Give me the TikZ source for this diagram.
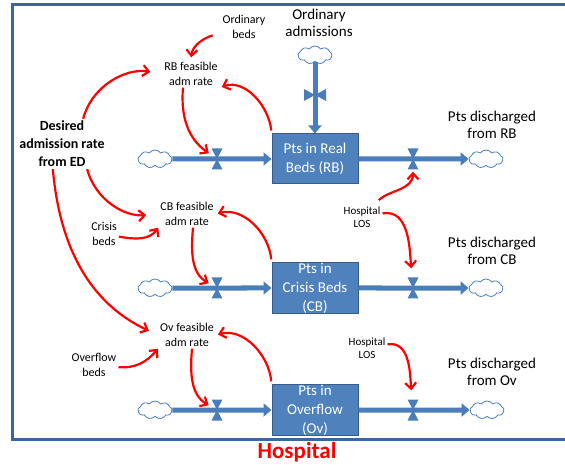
\documentclass[tikz,border=0pt]{standalone}
\usepackage{fontspec}
\setmainfont{Carlito}
\usetikzlibrary{arrows.meta,shapes.symbols}

\definecolor{stockblue}{HTML}{4F81BD}
\definecolor{stockedge}{HTML}{385D8A}
\definecolor{pipeblue}{HTML}{4A7EBB}
\definecolor{frameblue}{HTML}{3C679C}

\tikzset{
  stock/.style={draw=stockedge, fill=stockblue, line width=1pt, text=white,
    minimum width=86pt, minimum height=50pt, inner sep=0pt, align=center,
    font=\fontsize{15}{19}\selectfont},
  sky/.style={cloud, cloud puffs=9, cloud puff arc=110, aspect=2,
    draw=pipeblue, fill=white, line width=0.8pt,
    minimum width=34pt, minimum height=18pt, inner sep=0pt},
  pipe/.style={draw=pipeblue, line width=5pt, -{Triangle[length=8pt,width=13pt]}},
  valveh/.style={minimum width=11pt, minimum height=21pt, inner sep=0pt,
    path picture={\fill[pipeblue]
      (path picture bounding box.north west) -- (path picture bounding box.north east)
      -- (path picture bounding box.center) -- cycle
      (path picture bounding box.south west) -- (path picture bounding box.south east)
      -- (path picture bounding box.center) -- cycle;}},
  valvev/.style={minimum width=22pt, minimum height=12pt, inner sep=0pt,
    path picture={\fill[pipeblue]
      (path picture bounding box.north west) -- (path picture bounding box.south west)
      -- (path picture bounding box.center) -- cycle
      (path picture bounding box.north east) -- (path picture bounding box.south east)
      -- (path picture bounding box.center) -- cycle;}},
  infl/.style={red, line width=2.2pt, -{Straight Barb[length=6pt,width=11pt]}},
  ratetxt/.style={align=center, inner sep=2pt, font=\fontsize{12}{14.5}\selectfont},
  lostxt/.style={align=center, inner sep=2pt, font=\fontsize{11}{13}\selectfont},
  bigtxt/.style={align=center, inner sep=2pt, font=\fontsize{15}{17}\selectfont},
}

\begin{document}
\begin{tikzpicture}[x=1pt,y=1pt]
  \useasboundingbox (0,0) rectangle (565,464);

  % Hospital frame
  \draw[frameblue, line width=3pt] (566,459) -- (12,459) -- (12,25) -- (566,25);
  \node[red, font=\fontsize{23}{25}\bfseries] (hosp) at (297,12) {Hospital};

  % Stocks
  \node[stock] (rbbox) at (315,305) {Pts in Real\\Beds (RB)};
  \node[stock] (cbbox) at (315,176) {Pts in\\Crisis Beds\\(CB)};
  \node[stock] (ovbox) at (315,54) {Pts in\\Overflow\\(Ov)};

  % Sources and sinks
  \node[sky] (rbsrc) at (155,305) {};
  \node[sky] (cbsrc) at (155,176) {};
  \node[sky] (ovsrc) at (155,54) {};
  \node[sky] (topsrc) at (315,409) {};
  \node[sky] (rbsink) at (486,305) {};
  \node[sky] (cbsink) at (486,176) {};
  \node[sky] (ovsink) at (487,54) {};

  % Flows
  \draw[pipe] (rbsrc) -- (rbbox);
  \draw[pipe] (cbsrc) -- (cbbox);
  \draw[pipe] (ovsrc) -- (ovbox);
  \draw[pipe] (topsrc) -- (rbbox);
  \draw[pipe] (rbbox) -- (rbsink);
  \draw[pipe] (cbbox) -- (cbsink);
  \draw[pipe] (ovbox) -- (ovsink);

  % Valves
  \node[valveh] (rbvin) at (217,305) {};
  \node[valveh] (cbvin) at (217,176) {};
  \node[valveh] (ovvin) at (217,54) {};
  \node[valveh] (rbvout) at (413,305) {};
  \node[valveh] (cbvout) at (413,176) {};
  \node[valveh] (ovvout) at (413,54) {};
  \node[valvev] (topv) at (315,369) {};

  % Labels
  \node[bigtxt] (oadm) at (319,441) {Ordinary\\admissions};
  \node[ratetxt] (obeds) at (244,437) {Ordinary\\beds};
  \node[ratetxt] (rbrate) at (191,390) {RB feasible\\adm rate};
  \node[bigtxt, font=\fontsize{14}{18}\bfseries] (desired) at (62,320)
    {Desired\\admission rate\\from ED};
  \node[bigtxt] (disrb) at (492,339) {Pts discharged\\from RB};
  \node[ratetxt] (cbrate) at (187,250) {CB feasible\\adm rate};
  \node[ratetxt] (crisis) at (104,230) {Crisis\\beds};
  \node[lostxt] (losa) at (362,247) {Hospital\\LOS};
  \node[bigtxt] (discb) at (492,213) {Pts discharged\\from CB};
  \node[ratetxt] (ovrate) at (187,129) {Ov feasible\\adm rate};
  \node[ratetxt] (overflow) at (94,99) {Overflow\\beds};
  \node[lostxt] (losb) at (367,116) {Hospital\\LOS};
  \node[bigtxt] (disov) at (492,92) {Pts discharged\\from Ov};

  % Influences on RB
  \draw[infl, shorten <=8pt, shorten >=3pt] (obeds) to[out=195,in=85] (rbrate.north);
  \draw[infl, shorten >=12pt] (desired.50) to[out=75,in=170] (rbrate.west);
  \draw[infl, shorten >=3pt] ([xshift=-8pt]rbrate.south) to[out=-95,in=145] (rbvin);
  \draw[infl, shorten <=3pt, shorten >=2pt] (rbbox.north west) to[out=95,in=20] (rbrate.south east);

  % Influences on CB
  \draw[infl, shorten >=12pt] (desired.-45) to[out=-75,in=185] (cbrate.west);
  \draw[infl] (crisis) to[out=-10,in=235] (cbrate.south west);
  \draw[infl, shorten >=3pt] ([xshift=6pt]cbrate.south) to[out=-95,in=150] (cbvin);
  \draw[infl, shorten <=3pt, shorten >=2pt] (cbbox.north west) to[out=95,in=15] (cbrate.east);

  % Influences on Ov
  \draw[infl, shorten >=10pt] (desired.250) to[out=-85,in=155] (ovrate.west);
  \draw[infl] (overflow) to[out=-5,in=230] (ovrate.south west);
  \draw[infl, shorten >=3pt] ([xshift=5pt]ovrate.south) to[out=-95,in=150] (ovvin);
  \draw[infl, shorten <=3pt, shorten >=2pt] (ovbox.north west) to[out=95,in=15] (ovrate.east);

  % Length of stay
  \draw[infl, shorten <=6pt, shorten >=2pt] (losa) to[out=45,in=-90] (rbvout);
  \draw[infl, shorten >=9pt] (losa) to[out=10,in=95] (cbvout);
  \draw[infl, shorten >=9pt] (losb) to[out=10,in=95] (ovvout);
\end{tikzpicture}
\end{document}
